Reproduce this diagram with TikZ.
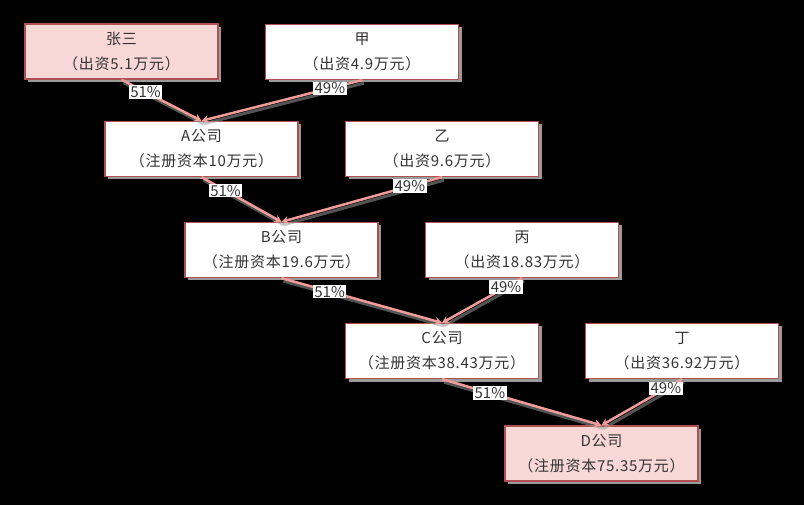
\documentclass[tikz,border=0pt]{standalone}
\usepackage{fontspec}
\setmainfont{Noto Sans CJK SC}
\usetikzlibrary{shadows,arrows.meta}
\definecolor{boxline}{HTML}{B05050}
\definecolor{pinkfill}{HTML}{F8D7D7}
\definecolor{conn}{HTML}{F19C99}
\definecolor{shade}{HTML}{9A9A9A}
\tikzset{
  entity/.style={draw=boxline, line width=1.3pt, fill=white, minimum width=193pt, minimum height=55pt,
    align=center, font=\fontsize{15pt}{25pt}\selectfont\addfontfeature{LetterSpace=5}, inner sep=0pt, text=black!80,
    drop shadow={shadow xshift=3pt, shadow yshift=-3pt, fill=shade, opacity=1}},
  hilite/.style={entity, fill=pinkfill},
  conline/.style={draw=conn, line width=2.5pt, -{Stealth[length=7pt,width=8pt]}},
  conshadow/.style={draw=shade, line width=3pt, opacity=0.55},
  pct/.style={fill=white, font=\fontsize{15pt}{17pt}\selectfont, inner xsep=1.5pt, inner ysep=1pt, text=black!80}
}
\begin{document}
\begin{tikzpicture}[x=1pt,y=-1pt]
\fill[black] (0,0) rectangle (804,505);
\useasboundingbox (0,0) rectangle (804,505);
\node[hilite] (zs) at (121.5,51.5) {张三\\（出资5.1万元）};
\node[entity] (jia) at (362,52) {甲\\（出资4.9万元）};
\node[entity] (A) at (201.5,149) {A公司\\（注册资本10万元）};
\node[entity] (yi) at (442,149) {乙\\（出资9.6万元）};
\node[entity] (B) at (281.5,250) {B公司\\（注册资本19.6万元）};
\node[entity] (bing) at (522,250) {丙\\（出资18.83万元）};
\node[entity] (C) at (442,351) {C公司\\（注册资本38.43万元）};
\node[entity] (ding) at (682,351) {丁\\（出资36.92万元）};
\node[hilite] (D) at (601.5,453.5) {D公司\\（注册资本75.35万元）};
\begin{scope}[transform canvas={shift={(2pt,-3pt)}}]
\draw[conshadow] (zs.south) -- (A.north);
\draw[conshadow] (jia.south) -- (A.north);
\draw[conshadow] (A.south) -- (B.north);
\draw[conshadow] (yi.south) -- (B.north);
\draw[conshadow] (B.south) -- (C.north);
\draw[conshadow] (bing.south) -- (C.north);
\draw[conshadow] (C.south) -- (D.north);
\draw[conshadow] (ding.south) -- (D.north);
\end{scope}
\draw[conline] (zs.south) -- node[pct, pos=0.3] (l1) {51\%} (A.north);
\draw[conline] (jia.south) -- node[pct, pos=0.2] (l2) {49\%} (A.north);
\draw[conline] (A.south) -- node[pct, pos=0.3] (l3) {51\%} (B.north);
\draw[conline] (yi.south) -- node[pct, pos=0.2] (l4) {49\%} (B.north);
\draw[conline] (B.south) -- node[pct, pos=0.3] (l5) {51\%} (C.north);
\draw[conline] (bing.south) -- node[pct, pos=0.2] (l6) {49\%} (C.north);
\draw[conline] (C.south) -- node[pct, pos=0.3] (l7) {51\%} (D.north);
\draw[conline] (ding.south) -- node[pct, pos=0.2] (l8) {49\%} (D.north);
\end{tikzpicture}
\end{document}
